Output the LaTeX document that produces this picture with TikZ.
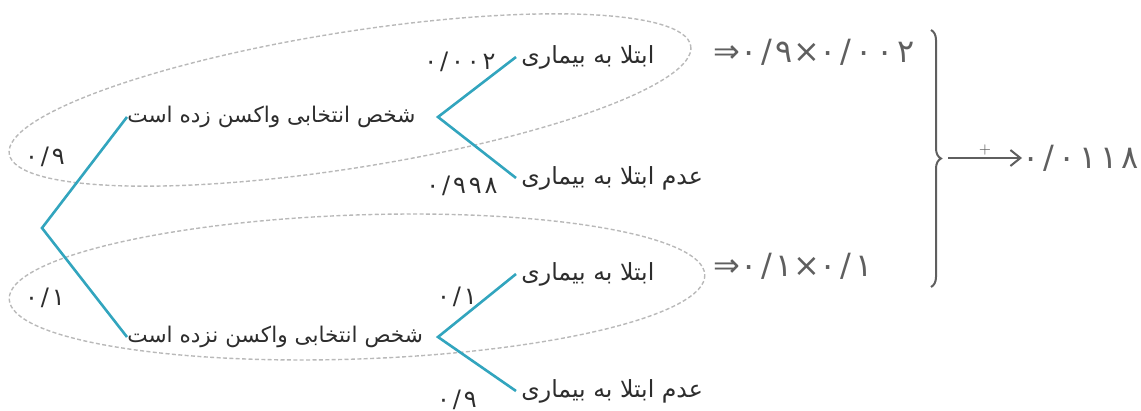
\documentclass[tikz,border=0pt]{standalone}
\usepackage{fontspec}
\newfontfamily\fa[Script=Arabic]{DejaVu Sans}
\newfontfamily\faw[Script=Arabic,LetterSpace=12]{DejaVu Sans}
\TeXXeTstate=1
\usetikzlibrary{decorations.pathreplacing,arrows.meta}
\definecolor{branch}{RGB}{50,165,190}
\definecolor{ink}{RGB}{45,45,45}
\definecolor{loop}{RGB}{185,185,185}
\definecolor{markgray}{RGB}{95,95,95}
\newcommand{\pc}[1]{\hbox{#1}}
\begin{document}
\begin{tikzpicture}[x=0.5pt,y=-0.5pt,
  txt/.style={inner sep=0pt,text=ink,font=\fa\fontsize{10.8}{13}\selectfont},
  leaf/.style={inner sep=2.5pt,text=ink,font=\fa\fontsize{11.8}{13}\selectfont},
  num/.style={inner sep=0pt,text=ink,font=\faw\fontsize{12}{14}\selectfont},
  res/.style={inner sep=0pt,text=markgray,font=\faw\fontsize{16}{18}\selectfont},
  br/.style={draw=branch,line width=1.3pt},
  ring/.style={draw=loop,line width=0.7pt,dash pattern=on 2pt off 1.2pt},
  conn/.style={draw=markgray,line width=1pt}]
\useasboundingbox (0,0) rectangle (1141,411);
% rings
\draw[ring] (350,100) ellipse [x radius=345, y radius=68, rotate=9];
\draw[ring] (357,287) ellipse [x radius=348, y radius=72, rotate=2];
% tree
\coordinate (root) at (42,228);
\coordinate (s1) at (438,117);
\coordinate (s2) at (438,337);
\node[txt,anchor=west] (uTxt) at (127,117) {\beginR شخص انتخابی واکسن زده است\endR};
\node[txt,anchor=west] (lTxt) at (127,337) {\beginR شخص انتخابی واکسن نزده است\endR};
\node[leaf,anchor=west] (u1) at (516,57) {\beginR ابتلا به بیماری\endR};
\node[leaf,anchor=west] (u2) at (516,178) {\beginR عدم ابتلا به بیماری\endR};
\node[leaf,anchor=west] (l1) at (516,274) {\beginR ابتلا به بیماری\endR};
\node[leaf,anchor=west] (l2) at (516,391) {\beginR عدم ابتلا به بیماری\endR};
\draw[br] (uTxt.west) -- (root) -- (lTxt.west);
\draw[br] (u1.west) -- (s1) -- (u2.west);
\draw[br] (l1.west) -- (s2) -- (l2.west);
% probabilities
\node[num] (pU) at (45,157) {۰/۹};
\node[num] (pL) at (45,298) {۰/۱};
\node[num] (pU1) at (460,62) {۰/۰۰۲};
\node[num] (pU2) at (462,186) {۰/۹۹۸};
\node[num] (pL1) at (457,297) {۰/۱};
\node[num] (pL2) at (457,400) {۰/۹};
% products
\node[res,anchor=west] (e1) at (713,52) {\pc{⇒}\pc{۰/۹}\pc{×}\pc{۰/۰۰۲}};
\node[res,anchor=west] (e2) at (713,266) {\pc{⇒}\pc{۰/۱}\pc{×}\pc{۰/۱}};
\coordinate (bTop) at (931,30);
\coordinate (bBot) at (931,287);
\draw[conn,decorate,decoration={brace,amplitude=5pt}] (bTop) -- (bBot);
\coordinate (tip) at (948,158);
\node[res,anchor=west] (sum) at (1022,158) {۰/۰۱۱۸};
\draw[conn,-{Straight Barb[length=5pt,width=8pt]}] (tip) -- node[above=1pt,font=\fontsize{7}{8}\selectfont,text=markgray,inner sep=0pt]{+} (sum.west);
\end{tikzpicture}
\end{document}
